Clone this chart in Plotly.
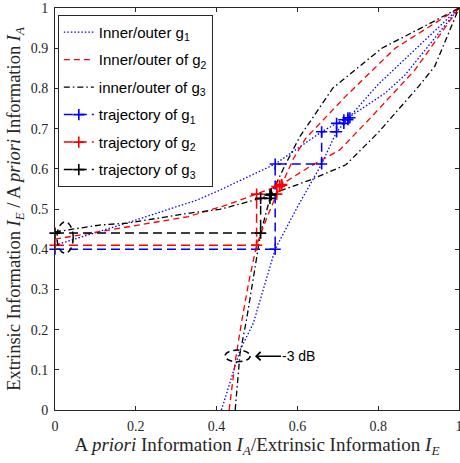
import plotly.graph_objects as go

# ---------------- data ----------------
# g1 : inner/outer EXIT curves
g1_upper_x = [0.0, 0.18, 0.351, 0.408, 0.545, 0.66, 0.697, 0.73, 0.817, 0.866, 1.0]
g1_upper_y = [0.41, 0.466, 0.522, 0.547, 0.612, 0.692, 0.713, 0.73, 0.788, 0.833, 1.0]
g1_steep_x = [0.412, 0.435, 0.458, 0.491, 0.516, 0.545, 0.557, 0.60, 0.66, 0.697, 0.73, 0.80, 0.842, 1.0]
g1_steep_y = [0.0, 0.075, 0.149, 0.216, 0.30, 0.40, 0.423, 0.505, 0.612, 0.692, 0.73, 0.81, 0.85, 1.0]

# g2
g2_upper_x = [0.0, 0.18, 0.33, 0.425, 0.499, 0.549, 0.562, 0.63, 0.705, 0.784, 0.891, 1.0]
g2_upper_y = [0.425, 0.456, 0.481, 0.51, 0.537, 0.556, 0.562, 0.605, 0.647, 0.73, 0.846, 1.0]
g2_steep_x = [0.431, 0.446, 0.462, 0.48, 0.499, 0.525, 0.549, 0.562, 0.59, 0.62, 0.718, 0.842, 1.0]
g2_steep_y = [0.0, 0.12, 0.22, 0.32, 0.41, 0.48, 0.537, 0.562, 0.625, 0.675, 0.779, 0.90, 1.0]

# g3
g3_upper_x = [0.0, 0.11, 0.18, 0.334, 0.408, 0.509, 0.532, 0.535, 0.631, 0.72, 0.80, 0.90, 0.94, 1.0]
g3_upper_y = [0.443, 0.46, 0.465, 0.49, 0.499, 0.5265, 0.535, 0.537, 0.572, 0.61, 0.69, 0.805, 0.855, 1.0]
g3_steep_x = [0.446, 0.458, 0.474, 0.503, 0.509, 0.532, 0.535, 0.57, 0.606, 0.688, 0.809, 0.921, 1.0]
g3_steep_y = [0.0, 0.141, 0.224, 0.398, 0.44, 0.5265, 0.537, 0.61, 0.68, 0.801, 0.90, 0.958, 1.0]

# decoding trajectories
traj1_x = [0.0, 0.545, 0.545, 0.66, 0.66, 0.697, 0.697, 0.715, 0.715, 0.725, 0.725, 0.73]
traj1_y = [0.40, 0.40, 0.612, 0.612, 0.692, 0.692, 0.713, 0.713, 0.722, 0.722, 0.727, 0.727]
traj2_x = [0.0, 0.499, 0.499, 0.549, 0.549, 0.556, 0.556, 0.561, 0.561]
traj2_y = [0.41, 0.41, 0.537, 0.537, 0.556, 0.556, 0.559, 0.559, 0.561]
traj3_x = [0.0, 0.509, 0.509, 0.532, 0.532, 0.535, 0.535]
traj3_y = [0.44, 0.44, 0.5265, 0.5265, 0.535, 0.535, 0.537]

legend_names = ["Inner/outer g<sub>1</sub>", "Inner/outer of g<sub>2</sub>",
                "inner/outer of g<sub>3</sub>", "trajectory of g<sub>1</sub>",
                "trajectory of g<sub>2</sub>", "trajectory of g<sub>3</sub>"]

# annotation marks (ellipses: x0, x1, y0, y1 in data units)
ellipse_start = [0.005, 0.045, 0.39, 0.468]
ellipse_3db = [0.421, 0.483, 0.120, 0.149]
arrow_tip = [0.495, 0.134]
arrow_text = "-3 dB"

# ---------------- figure ----------------
BLUE, RED, BLACK = "#0000ff", "#ff0000", "#000000"
fig = go.Figure()


def pair(ax, ay, bx, by):
    return ax + [None] + bx, ay + [None] + by


x, y = pair(g1_upper_x, g1_upper_y, g1_steep_x, g1_steep_y)
fig.add_trace(go.Scatter(x=x, y=y, mode="lines", name=legend_names[0], legendgroup="a",
                         line=dict(color=BLUE, width=1.3, dash="1.5px,2px")))
x, y = pair(g2_upper_x, g2_upper_y, g2_steep_x, g2_steep_y)
fig.add_trace(go.Scatter(x=x, y=y, mode="lines", name=legend_names[1], legendgroup="b",
                         line=dict(color=RED, width=1.3, dash="6px,4px")))
x, y = pair(g3_upper_x, g3_upper_y, g3_steep_x, g3_steep_y)
fig.add_trace(go.Scatter(x=x, y=y, mode="lines", name=legend_names[2], legendgroup="c",
                         line=dict(color=BLACK, width=1.3, dash="6px,3px,1.5px,3px")))

for tx, ty, col, nm, grp in [(traj1_x, traj1_y, BLUE, legend_names[3], "d"),
                             (traj2_x, traj2_y, RED, legend_names[4], "e"),
                             (traj3_x, traj3_y, BLACK, legend_names[5], "f")]:
    fig.add_trace(go.Scatter(x=tx, y=ty, mode="lines+markers", name=nm, legendgroup=grp,
                             cliponaxis=False,
                             line=dict(color=col, width=1.5, dash="9px,5px"),
                             marker=dict(symbol="cross-thin", size=8,
                                         line=dict(color=col, width=1.6))))

for e in (ellipse_start, ellipse_3db):
    fig.add_shape(type="circle", xref="x", yref="y", x0=e[0], x1=e[1], y0=e[2], y1=e[3],
                  line=dict(color=BLACK, width=1.5, dash="6px,4px"))

fig.add_annotation(x=arrow_tip[0], y=arrow_tip[1], xref="x", yref="y", text=arrow_text,
                   showarrow=True, ax=44, ay=0, arrowhead=4, arrowsize=1.1, arrowwidth=1.5,
                   arrowcolor=BLACK, font=dict(family="Liberation Sans", size=14, color=BLACK))

AX = "#262626"
common = dict(range=[0, 1], showgrid=False, zeroline=False, showline=True, linecolor=AX,
              linewidth=1, mirror="allticks", ticks="inside", ticklen=4, tickcolor=AX,
              ticklabeloverflow="allow",
              tickfont=dict(family="Liberation Serif", size=14, color=AX))
fig.update_xaxes(**common, dtick=0.2, tick0=0, ticklabelstandoff=3,
                 title=dict(text="A <i>priori</i> Information <i>I<sub>A</sub></i>/Extrinsic Information <i>I<sub>E</sub></i>",
                            font=dict(family="Liberation Serif", size=19, color=AX), standoff=4))
fig.update_yaxes(**common, dtick=0.1, tick0=0, ticklabelstandoff=3,
                 title=dict(text="Extrinsic Information <i>I<sub>E</sub></i> / A <i>priori</i> Information <i>I<sub>A</sub></i>",
                            font=dict(family="Liberation Serif", size=18.5, color=AX), standoff=5))

fig.update_layout(
    width=460, height=463, margin=dict(l=55, r=1, t=8, b=53, autoexpand=False),
    paper_bgcolor="white", plot_bgcolor="white",
    legend=dict(x=0.007, y=0.983, xanchor="left", yanchor="top", bgcolor="white",
                bordercolor=AX, borderwidth=1, itemwidth=30, tracegroupgap=5,
                font=dict(family="Liberation Sans", size=15, color=BLACK)),
)

fig.write_html("out.html", config={"displayModeBar": False},
               post_script="document.body.style.margin='0px';")
